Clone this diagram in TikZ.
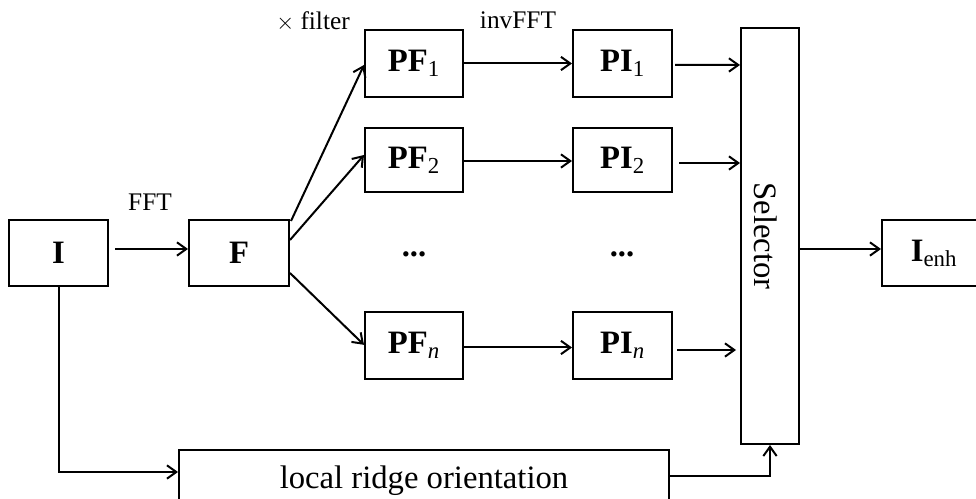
\documentclass[tikz,border=0pt]{standalone}
\usepackage{fontspec}
\setmainfont{Liberation Serif}
\usetikzlibrary{arrows.meta}
\begin{document}
\begin{tikzpicture}[x=0.75pt,y=-0.75pt,
  box/.style={draw,line width=1.5pt,inner sep=0pt,font=\fontsize{24.5}{29}\selectfont\bfseries},
  lbl/.style={inner sep=0pt,font=\fontsize{19}{23}\selectfont},
  arr/.style={line width=1.5pt,-{Straight Barb[length=7pt,width=10pt,line width=1.5pt]}},
  ln/.style={line width=1.5pt}]
\useasboundingbox (0,0) rectangle (976,499);
\clip (0,0) rectangle (976,499);
\node[box,minimum width=74.25pt,minimum height=49.5pt] (I) at (58.5,253) {I};
\node[box,minimum width=75pt,minimum height=49.5pt] (F) at (239,253) {F};
\node[box,minimum width=73.5pt,minimum height=50pt] (PF1) at (414,63.5) {PF\textsubscript{\mdseries 1}};
\node[box,minimum width=73.5pt,minimum height=48pt] (PF2) at (414,160) {PF\textsubscript{\mdseries 2}};
\node[box,minimum width=73.5pt,minimum height=50pt] (PFn) at (414,345.5) {PF\textsubscript{\mdseries\itshape n}};
\node[box,minimum width=74.25pt,minimum height=50pt] (PI1) at (622.5,63.5) {PI\textsubscript{\mdseries 1}};
\node[box,minimum width=74.25pt,minimum height=48pt] (PI2) at (622.5,160) {PI\textsubscript{\mdseries 2}};
\node[box,minimum width=74.25pt,minimum height=50pt] (PIn) at (622.5,345.5) {PI\textsubscript{\mdseries\itshape n}};
\node[box,minimum width=43.5pt,minimum height=312pt] (Sel) at (770,236) {};
\node[inner sep=0pt,rotate=-90,font=\fontsize{24.5}{29}\selectfont] (SelT) at (766,236) {Selector};
\node[box,minimum width=78pt,minimum height=49.5pt] (Ie) at (934,253) {I\textsubscript{\mdseries enh}};
\node[box,minimum width=367.5pt,minimum height=45pt] (lro) at (424,480) {};
\node[inner sep=0pt,font=\fontsize{24.5}{29}\selectfont,anchor=base] (lroT) at (424,488) {local ridge orientation};
\node[inner sep=0pt,anchor=base,font=\fontsize{24.5}{29}\selectfont\bfseries] (d1) at (414,257) {...};
\node[inner sep=0pt,anchor=base,font=\fontsize{24.5}{29}\selectfont\bfseries] (d2) at (622,257) {...};
\node[lbl] (fft) at (150,202) {FFT};
\node[lbl] (filt) at (313,22) {$\times$ filter};
\node[lbl] (ifft) at (518,20) {invFFT};
% connectors
\draw[arr] ([shift={(6,-4)}]I.east) -- ([yshift=3pt]F.west);
\draw[arr] ([shift={(1,2)}]F.north east) -- ([yshift=-1.1pt]PF1.west);
\draw[arr] ([yshift=9.75pt]F.east) -- ([yshift=3.75pt]PF2.west);
\draw[arr] ([yshift=-15pt]F.east) -- ([yshift=0.5pt]PFn.west);
\draw[arr] (PF1.east) -- (PI1.west);
\draw[arr] ([yshift=-0.75pt]PF2.east) -- ([yshift=-0.75pt]PI2.west);
\draw[arr] ([yshift=-1.5pt]PFn.east) -- ([yshift=-1.5pt]PIn.west);
\draw[arr] ([shift={(2,1.5)}]PI1.east) -- ([yshift=-1.1pt]PI1.east -| Sel.west);
\draw[arr] ([shift={(6,3)}]PI2.east) -- ([yshift=-2.25pt]PI2.east -| Sel.west);
\draw[arr] ([shift={(4,4.5)}]PIn.east) -- ([shift={(-4,4.5)}]PIn.east -| Sel.west);
\draw[arr] ([yshift=3pt]Ie.west -| Sel.east) -- ([yshift=3pt]Ie.west);
\draw[arr] (I.south) |- ([yshift=6pt]lro.west);
\draw[arr] ([yshift=3pt]lro.east) -| (Sel.south);
\end{tikzpicture}
\end{document}
